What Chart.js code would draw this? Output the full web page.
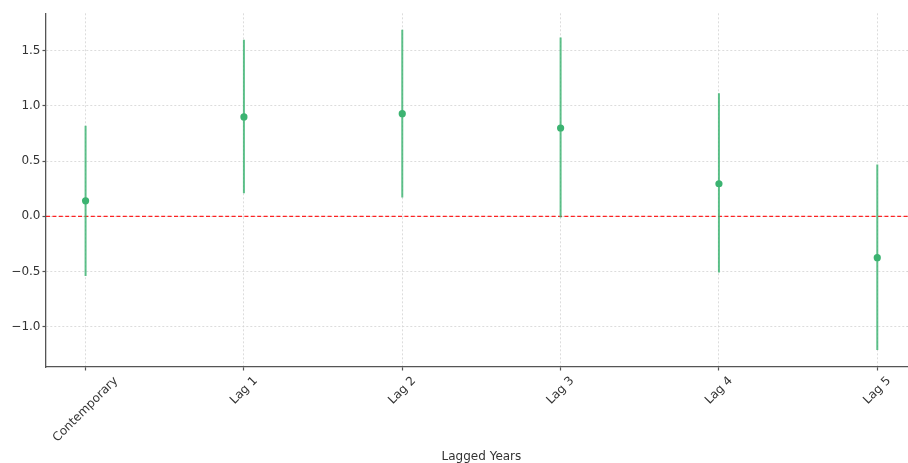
<!DOCTYPE html>
<html><head><meta charset="utf-8">
<script src="https://cdn.jsdelivr.net/npm/chart.js@4.4.0/dist/chart.umd.min.js"></script>
<style>html,body{margin:0;padding:0;background:#fff;overflow:hidden;}</style>
</head><body>
<canvas id="c" width="908" height="463" style="display:block;width:908px;height:463px"></canvas>
<script>
const categories = ['Contemporary', 'Lag 1', 'Lag 2', 'Lag 3', 'Lag 4', 'Lag 5'];
const coefficients = [0.14, 0.90, 0.93, 0.80, 0.295, -0.375];
const lowerBounds = [-0.54, 0.21, 0.17, -0.01, -0.51, -1.21];
const upperBounds = [0.82, 1.60, 1.69, 1.62, 1.115, 0.47];
const yTicks = [-1.0, -0.5, 0.0, 0.5, 1.0, 1.5];
const referenceValue = [0];
const xTitle = 'Lagged Years';

const FONT = '"DejaVu Sans", sans-serif';
const TEXT = '#333333';
const SPINE = '#555555';

const pointColor = '#3cb371';
const barColor = 'rgba(60,179,113,0.82)';

const X_MIN = -0.25, X_MAX = 5.194;

const datasets = [];
datasets.push({
  type: 'scatter',
  label: 'Coefficient',
  data: categories.map((_, i) => ({ x: i, y: coefficients[i] })),
  backgroundColor: pointColor,
  borderColor: pointColor,
  pointRadius: 3.6,
  borderWidth: 0
});
categories.forEach((cat, i) => {
  datasets.push({
    type: 'line',
    label: cat + ' CI',
    data: [{ x: i, y: lowerBounds[i] }, { x: i, y: upperBounds[i] }],
    borderColor: barColor,
    borderWidth: 2,
    pointRadius: 0,
    fill: false
  });
});
datasets.push({
  type: 'line',
  label: 'Zero',
  data: [{ x: -0.25, y: referenceValue[0] }, { x: categories.length - 0.75, y: referenceValue[0] }],
  borderColor: 'rgba(255,0,0,0.85)',
  borderWidth: 1.2,
  borderDash: [4, 2.4],
  pointRadius: 0,
  fill: false
});

const xLabelPlugin = {
  id: 'xlabels',
  afterDraw(chart) {
    const ctx = chart.ctx, xs = chart.scales.x, area = chart.chartArea;
    ctx.save();
    ctx.font = '12px ' + FONT;
    ctx.fillStyle = TEXT;
    const h = 14, c = Math.SQRT1_2;
    const top = area.bottom + 7;
    categories.forEach((lab, i) => {
      const w = ctx.measureText(lab).width;
      const bw = (w + h) * c;
      const cx = xs.getPixelForValue(i), cy = top + bw / 2;
      ctx.save();
      ctx.translate(cx, cy);
      ctx.rotate(-Math.PI / 4);
      ctx.textAlign = 'center';
      ctx.textBaseline = 'middle';
      ctx.fillText(lab, 0, 0);
      ctx.restore();
    });
    // axis title centred on the full (matplotlib) axes span
    ctx.textAlign = 'center';
    ctx.textBaseline = 'middle';
    ctx.fillText(xTitle, xs.getPixelForValue((categories.length - 1) / 2), 457);
    ctx.restore();
  }
};

new Chart(document.getElementById('c'), {
  data: { datasets },
  plugins: [xLabelPlugin],
  options: {
    responsive: false,
    animation: false,
    events: [],
    layout: { autoPadding: false, padding: { left: 0, top: 13.3, right: 0, bottom: 0 } },
    plugins: { legend: { display: false }, tooltip: { enabled: false } },
    scales: {
      x: {
        type: 'linear',
        min: X_MIN,
        max: X_MAX,
        afterBuildTicks: s => { s.ticks = categories.map((_, i) => ({ value: i })); },
        afterFit: s => { s.height = 96; s.paddingRight = 0; s.paddingLeft = 0; },
        ticks: { display: false },
        grid: { color: '#d4d4d4', lineWidth: 0.8, drawTicks: true, tickLength: 3.5, tickColor: SPINE, tickWidth: 1.2 },
        border: { display: true, color: SPINE, width: 1.3, dash: [2, 2] }
      },
      y: {
        type: 'linear',
        min: -1.365,
        max: 1.839,
        afterBuildTicks: s => { s.ticks = yTicks.map(v => ({ value: v })); },
        afterFit: s => { s.width = 46; },
        ticks: {
          color: TEXT,
          font: { family: FONT, size: 12 },
          padding: 2,
          callback: v => (v < 0 ? '\u2212' : '') + Math.abs(v).toFixed(1)
        },
        grid: { color: '#d4d4d4', lineWidth: 0.8, drawTicks: true, tickLength: 3.5, tickColor: SPINE, tickWidth: 1.2 },
        border: { display: true, color: SPINE, width: 1.3, dash: [2, 2] }
      }
    }
  }
});
</script>
</body></html>
